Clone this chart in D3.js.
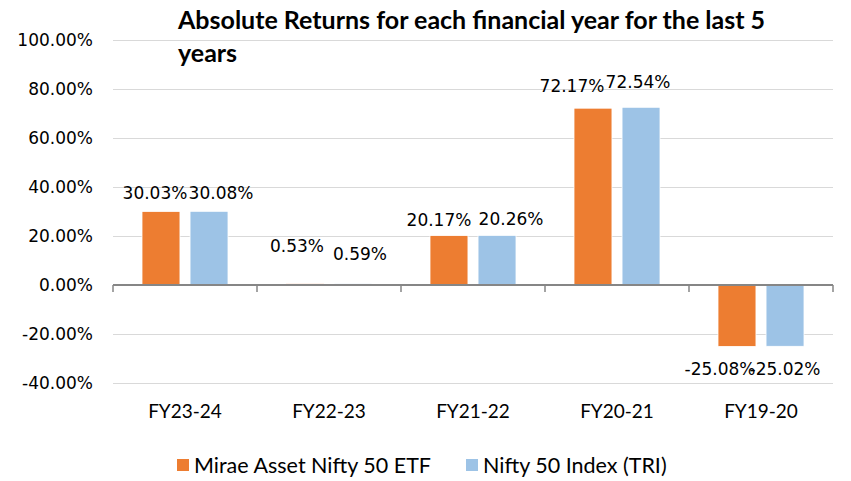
<!DOCTYPE html>
<html>
<head>
<meta charset="utf-8">
<script src="https://cdn.jsdelivr.net/npm/d3@7"></script>
<style>
  body { margin: 0; background: #fff; }
  .grid line { stroke: #d9d9d9; }
  .grid .domain { display: none; }
</style>
</head>
<body>
<div id="chart"></div>
<script>
// absolute returns per financial year, ETF vs index

const width = 851,
    height = 481,
    margin = ({ top: 40, right: 18, bottom: 98, left: 113 });

const years = ["FY23-24", "FY22-23", "FY21-22", "FY20-21", "FY19-20"];
const seriesNames = ["Mirae Asset Nifty 50 ETF", "Nifty 50 Index (TRI)"];
const etfReturns = [30.03, 0.53, 20.17, 72.17, -25.08];
const indexReturns = [30.08, 0.59, 20.26, 72.54, -25.02];
const yTicks = [-40, -20, 0, 20, 40, 60, 80, 100];
const colors = ["#ED7D31", "#9DC3E6"];

// labels were hand-moved in the original, so nudge them [dx, dy] per year / series
const labelNudge = {
    "FY23-24": [[-6, 0], [12, 0]],
    "FY22-23": [[-8, -20], [7, -12]],
    "FY21-22": [[-10, 2], [14, 2]],
    "FY20-21": [[-21, -4], [-3, -7]],
    "FY19-20": [[-17, 0], [0, 0]]
};
const uiFont = "Lato, 'Open Sans', sans-serif";

let fmt = v => d3.format(".2f")(v).replace("\u2212", "-") + "%";

let data = years.map((y, i) => ({ year: y, values: [etfReturns[i], indexReturns[i]] }));

let svg = d3.select("#chart")
    .append("svg")
    .attr("width", width)
    .attr("height", height)
    .style("font-family", "'DejaVu Sans', sans-serif");

let x = d3.scaleBand()
    .domain(years)
    .range([margin.left, width - margin.right]);

let x1 = d3.scaleBand()
    .domain([0, 1])
    .range([29, x.bandwidth() - 29])
    .paddingInner(0.21);

let y = d3.scaleLinear()
    .domain([-40, 100])
    .range([height - margin.bottom, margin.top]);

// gridlines
svg.append("g")
    .attr("class", "grid")
    .attr("transform", `translate(${margin.left},0)`)
    .call(d3.axisLeft(y).tickValues(yTicks).tickSize(-(width - margin.left - margin.right)).tickFormat(""));

// y labels
svg.append("g")
    .selectAll("text")
    .data(yTicks)
    .join("text")
    .attr("x", 93)
    .attr("y", d => y(d))
    .attr("dy", "0.35em")
    .attr("text-anchor", "end")
    .attr("font-size", 17)
    .attr("fill", "#000")
    .text(d => fmt(d));

// bars
let groups = svg.append("g")
    .selectAll("g")
    .data(data)
    .join("g")
    .attr("transform", d => `translate(${x(d.year)},0)`);

groups.selectAll("rect")
    .data(d => d.values)
    .join("rect")
    .attr("x", (v, i) => x1(i))
    .attr("width", x1.bandwidth())
    .attr("y", v => y(Math.max(0, v)))
    .attr("height", v => Math.abs(y(v) - y(0)))
    .attr("fill", (v, i) => colors[i])
    .attr("stroke", "#fff")
    .attr("stroke-width", 0.8);

// data labels
groups.selectAll("text")
    .data(d => d.values.map((v, i) => ({ v, i, year: d.year })))
    .join("text")
    .attr("x", d => x1(d.i) + x1.bandwidth() / 2 + labelNudge[d.year][d.i][0])
    .attr("y", d => (d.v >= 0 ? y(d.v) - 12 : y(d.v) + 29) + labelNudge[d.year][d.i][1])
    .attr("text-anchor", "middle")
    .attr("font-size", 17)
    .attr("fill", "#000")
    .text(d => fmt(d.v));

// zero axis
svg.append("line")
    .attr("x1", x.range()[0])
    .attr("x2", x.range()[1])
    .attr("y1", y(0))
    .attr("y2", y(0))
    .attr("stroke", "#868686")
    .attr("stroke-width", 2);

svg.append("g")
    .selectAll("line")
    .data(years.concat(["end"]))
    .join("line")
    .attr("x1", (d, i) => i < years.length ? x(d) : x.range()[1])
    .attr("x2", (d, i) => i < years.length ? x(d) : x.range()[1])
    .attr("y1", y(0))
    .attr("y2", y(0) + 7)
    .attr("stroke", "#868686")
    .attr("stroke-width", 1.5);

// category labels
svg.append("g")
    .selectAll("text")
    .data(years)
    .join("text")
    .attr("x", d => x(d) + x.bandwidth() / 2)
    .attr("y", 418)
    .attr("text-anchor", "middle")
    .attr("font-family", uiFont)
    .attr("font-size", 19)
    .attr("fill", "#000")
    .text(d => d);

// title
let title = svg.append("text")
    .attr("font-family", uiFont)
    .attr("font-weight", "bold")
    .attr("font-size", 25)
    .attr("fill", "#000");
title.append("tspan").attr("x", 178).attr("y", 29).text("Absolute Returns for each financial year for the last 5");
title.append("tspan").attr("x", 178).attr("y", 62).text("years");

// legend
let legend = svg.append("g")
    .attr("transform", "translate(177,465)");

let lx = [0, 289];
seriesNames.forEach((name, i) => {
    legend.append("rect")
        .attr("x", lx[i])
        .attr("y", -6)
        .attr("width", 12)
        .attr("height", 12)
        .attr("fill", colors[i]);
    legend.append("text")
        .attr("x", lx[i] + 17)
        .attr("y", 0)
        .attr("dy", "0.35em")
        .attr("font-family", uiFont)
        .attr("font-size", 21.5)
        .attr("fill", "#000")
        .text(name);
});
</script>
</body>
</html>
